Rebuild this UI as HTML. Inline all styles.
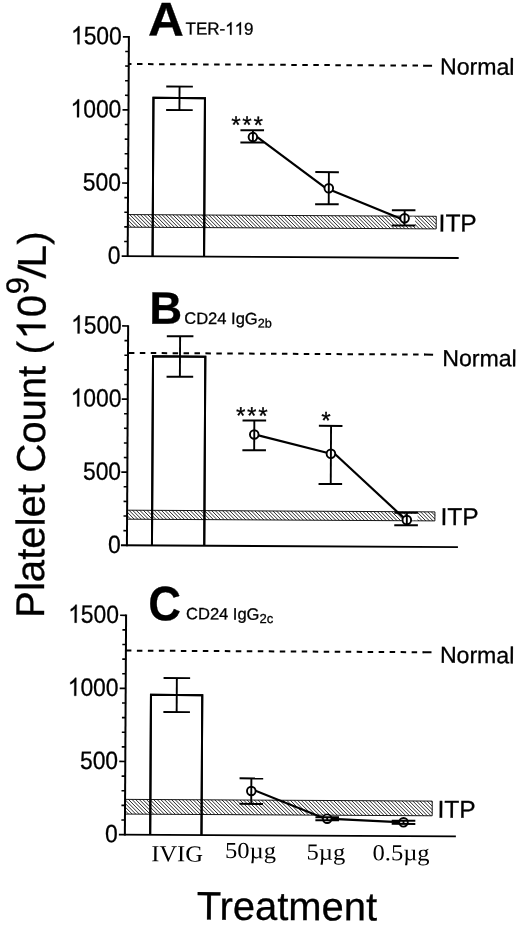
<!DOCTYPE html>
<html><head><meta charset="utf-8"><title>Figure</title>
<style>
html,body{margin:0;padding:0;background:#fff;}
body{width:520px;height:928px;overflow:hidden;}
svg{display:block;will-change:transform;filter:grayscale(1);}
text{font-family:"Liberation Sans",sans-serif;fill:#000;stroke:#000;stroke-width:0.3px;}
</style></head><body>
<svg width="520" height="928" viewBox="0 0 520 928">
<rect width="520" height="928" fill="#fff"/>
<g transform="translate(128.9,36.85) rotate(0.32)">
<rect x="0" y="177.73" width="308.34" height="12.6" fill="#fff"/>
<path d="M0,190.33L0,190.33M0,186.73L3.6,190.33M0,183.13L7.2,190.33M0,179.53L10.8,190.33M1.8,177.73L14.4,190.33M5.4,177.73L18,190.33M9,177.73L21.6,190.33M12.6,177.73L25.2,190.33M16.2,177.73L28.8,190.33M19.8,177.73L32.4,190.33M23.4,177.73L36,190.33M27,177.73L39.6,190.33M30.6,177.73L43.2,190.33M34.2,177.73L46.8,190.33M37.8,177.73L50.4,190.33M41.4,177.73L54,190.33M45,177.73L57.6,190.33M48.6,177.73L61.2,190.33M52.2,177.73L64.8,190.33M55.8,177.73L68.4,190.33M59.4,177.73L72,190.33M63,177.73L75.6,190.33M66.6,177.73L79.2,190.33M70.2,177.73L82.8,190.33M73.8,177.73L86.4,190.33M77.4,177.73L90,190.33M81,177.73L93.6,190.33M84.6,177.73L97.2,190.33M88.2,177.73L100.8,190.33M91.8,177.73L104.4,190.33M95.4,177.73L108,190.33M99,177.73L111.6,190.33M102.6,177.73L115.2,190.33M106.2,177.73L118.8,190.33M109.8,177.73L122.4,190.33M113.4,177.73L126,190.33M117,177.73L129.6,190.33M120.6,177.73L133.2,190.33M124.2,177.73L136.8,190.33M127.8,177.73L140.4,190.33M131.4,177.73L144,190.33M135,177.73L147.6,190.33M138.6,177.73L151.2,190.33M142.2,177.73L154.8,190.33M145.8,177.73L158.4,190.33M149.4,177.73L162,190.33M153,177.73L165.6,190.33M156.6,177.73L169.2,190.33M160.2,177.73L172.8,190.33M163.8,177.73L176.4,190.33M167.4,177.73L180,190.33M171,177.73L183.6,190.33M174.6,177.73L187.2,190.33M178.2,177.73L190.8,190.33M181.8,177.73L194.4,190.33M185.4,177.73L198,190.33M189,177.73L201.6,190.33M192.6,177.73L205.2,190.33M196.2,177.73L208.8,190.33M199.8,177.73L212.4,190.33M203.4,177.73L216,190.33M207,177.73L219.6,190.33M210.6,177.73L223.2,190.33M214.2,177.73L226.8,190.33M217.8,177.73L230.4,190.33M221.4,177.73L234,190.33M225,177.73L237.6,190.33M228.6,177.73L241.2,190.33M232.2,177.73L244.8,190.33M235.8,177.73L248.4,190.33M239.4,177.73L252,190.33M243,177.73L255.6,190.33M246.6,177.73L259.2,190.33M250.2,177.73L262.8,190.33M253.8,177.73L266.4,190.33M257.4,177.73L270,190.33M261,177.73L273.6,190.33M264.6,177.73L277.2,190.33M268.2,177.73L280.8,190.33M271.8,177.73L284.4,190.33M275.4,177.73L288,190.33M279,177.73L291.6,190.33M282.6,177.73L295.2,190.33M286.2,177.73L298.8,190.33M289.8,177.73L302.4,190.33M293.4,177.73L306,190.33M297,177.73L308.34,189.07M300.6,177.73L308.34,185.47M304.2,177.73L308.34,181.87M307.8,177.73L308.34,178.27" stroke="#111" stroke-width="0.9" fill="none"/>
<rect x="0" y="177.73" width="308.34" height="12.6" fill="none" stroke="#000" stroke-width="0.9"/>
<line x1="0" y1="-0.85" x2="0" y2="220.15" stroke="#000" stroke-width="2.0" />
<line x1="-6" y1="219.3" x2="331" y2="219.3" stroke="#000" stroke-width="1.8" />
<line x1="-3.6" y1="204.68" x2="0" y2="204.68" stroke="#000" stroke-width="1.6" />
<line x1="-3.6" y1="190.06" x2="0" y2="190.06" stroke="#000" stroke-width="1.6" />
<line x1="-3.6" y1="175.44" x2="0" y2="175.44" stroke="#000" stroke-width="1.6" />
<line x1="-3.6" y1="160.82" x2="0" y2="160.82" stroke="#000" stroke-width="1.6" />
<line x1="-6" y1="146.2" x2="0" y2="146.2" stroke="#000" stroke-width="1.7" />
<line x1="-3.6" y1="131.58" x2="0" y2="131.58" stroke="#000" stroke-width="1.6" />
<line x1="-3.6" y1="116.96" x2="0" y2="116.96" stroke="#000" stroke-width="1.6" />
<line x1="-3.6" y1="102.34" x2="0" y2="102.34" stroke="#000" stroke-width="1.6" />
<line x1="-3.6" y1="87.72" x2="0" y2="87.72" stroke="#000" stroke-width="1.6" />
<line x1="-6" y1="73.1" x2="0" y2="73.1" stroke="#000" stroke-width="1.7" />
<line x1="-3.6" y1="58.48" x2="0" y2="58.48" stroke="#000" stroke-width="1.6" />
<line x1="-3.6" y1="43.86" x2="0" y2="43.86" stroke="#000" stroke-width="1.6" />
<line x1="-3.6" y1="29.24" x2="0" y2="29.24" stroke="#000" stroke-width="1.6" />
<line x1="-3.6" y1="14.62" x2="0" y2="14.62" stroke="#000" stroke-width="1.6" />
<line x1="-6" y1="0" x2="0" y2="0" stroke="#000" stroke-width="1.7" />
<text transform="translate(-7.2,227) scale(0.905,1)" text-anchor="end" font-size="25.2">0</text>
<text transform="translate(-7.2,153.9) scale(0.905,1)" text-anchor="end" font-size="25.2">500</text>
<g transform="translate(-7.2,80.8) scale(0.905,1)"><text text-anchor="end" font-size="25.2">000</text><path d="M-46.65,0.00 L-48.86,0.00 L-48.86,-14.11 C-49.39,-13.61 -50.10,-13.10 -50.98,-12.57 C-51.84,-12.07 -52.62,-11.69 -53.30,-11.44 L-53.30,-13.58 C-52.06,-14.16 -50.98,-14.87 -50.07,-15.70 C-49.14,-16.51 -48.48,-17.31 -48.11,-18.09 L-46.65,-18.09 Z" fill="#000" stroke="#000" stroke-width="0.3"/></g>
<g transform="translate(-7.2,7.7) scale(0.905,1)"><text text-anchor="end" font-size="25.2">500</text><path d="M-46.65,0.00 L-48.86,0.00 L-48.86,-14.11 C-49.39,-13.61 -50.10,-13.10 -50.98,-12.57 C-51.84,-12.07 -52.62,-11.69 -53.30,-11.44 L-53.30,-13.58 C-52.06,-14.16 -50.98,-14.87 -50.07,-15.70 C-49.14,-16.51 -48.48,-17.31 -48.11,-18.09 L-46.65,-18.09 Z" fill="#000" stroke="#000" stroke-width="0.3"/></g>
<line x1="0" y1="27.14" x2="295.3" y2="27.14" stroke="#000" stroke-width="2.0" stroke-dasharray="5.5 5.52" stroke-dashoffset="-8.25"/>
<line x1="294.5" y1="27.14" x2="303.3" y2="27.14" stroke="#000" stroke-width="2.0" />
<text x="311.31" y="35.74" font-size="23.1">Normal</text>
<text x="310.79" y="192.82" font-size="24.5">ITP</text>
<path d="M24.9,219.3 V60.86 H76.4 V219.3" fill="none" stroke="#000" stroke-width="2"/>
<path d="M24.9,219.3 V60.86 H76.4 V219.3" fill="none" stroke="#000" stroke-width="2"/>
<line x1="50.94" y1="49.37" x2="50.94" y2="72.87" stroke="#000" stroke-width="1.9" />
<line x1="37.64" y1="49.37" x2="64.24" y2="49.37" stroke="#000" stroke-width="1.9" />
<line x1="37.64" y1="72.87" x2="64.24" y2="72.87" stroke="#000" stroke-width="1.9" />
<rect x="276.72" y="178.33" width="10.5" height="8.77" fill="#fff"/>
<line x1="124.54" y1="96.26" x2="200.76" y2="152.43" stroke="#000" stroke-width="2.2" />
<line x1="200.75" y1="151.23" x2="276.73" y2="181.91" stroke="#000" stroke-width="2.2" />
<circle cx="124.56" cy="99.56" r="4.3" fill="#fff" stroke="none"/>
<line x1="112.06" y1="92.66" x2="135.66" y2="92.66" stroke="#000" stroke-width="2.0" />
<line x1="112.06" y1="104.96" x2="135.66" y2="104.96" stroke="#000" stroke-width="2.0" />
<line x1="124.56" y1="92.66" x2="124.56" y2="104.96" stroke="#000" stroke-width="1.9" />
<circle cx="124.56" cy="99.56" r="4.3" fill="none" stroke="#000" stroke-width="1.9"/>
<circle cx="200.75" cy="150.33" r="4.3" fill="#fff" stroke="none"/>
<line x1="187.15" y1="134.23" x2="210.75" y2="134.23" stroke="#000" stroke-width="2.0" />
<line x1="187.15" y1="166.33" x2="210.75" y2="166.33" stroke="#000" stroke-width="2.0" />
<line x1="200.75" y1="134.23" x2="200.75" y2="166.33" stroke="#000" stroke-width="1.9" />
<circle cx="200.75" cy="150.33" r="4.3" fill="none" stroke="#000" stroke-width="1.9"/>
<circle cx="276.72" cy="179.91" r="4.3" fill="#fff" stroke="none"/>
<line x1="263.92" y1="171.91" x2="287.52" y2="171.91" stroke="#000" stroke-width="2.0" />
<line x1="263.92" y1="187.11" x2="287.52" y2="187.11" stroke="#000" stroke-width="2.0" />
<line x1="276.72" y1="171.91" x2="276.72" y2="187.11" stroke="#000" stroke-width="1.9" />
<circle cx="276.72" cy="179.91" r="4.3" fill="none" stroke="#000" stroke-width="1.9"/>
<text x="102.84" y="95.58" font-size="24" letter-spacing="1.8" stroke="#000" stroke-width="0.7">***</text>
<text transform="translate(19.19,-1.56) scale(1.045,1)" font-size="47.5" font-weight="bold" stroke="none">A</text>
<g transform="translate(56.69,-2.77) scale(0.975,1)"><text font-size="17.4">TER-</text><path d="M47.08,0.00 L45.55,0.00 L45.55,-9.74 C45.19,-9.40 44.70,-9.05 44.09,-8.68 C43.50,-8.33 42.96,-8.07 42.49,-7.90 L42.49,-9.38 C43.34,-9.78 44.09,-10.27 44.72,-10.84 C45.36,-11.40 45.81,-11.95 46.08,-12.49 L47.08,-12.49 Z" fill="#000" stroke="#000" stroke-width="0.3"/><path d="M56.76,0.00 L55.23,0.00 L55.23,-9.74 C54.86,-9.40 54.37,-9.05 53.77,-8.68 C53.17,-8.33 52.63,-8.07 52.17,-7.90 L52.17,-9.38 C53.02,-9.78 53.77,-10.27 54.39,-10.84 C55.04,-11.40 55.49,-11.95 55.75,-12.49 L56.76,-12.49 Z" fill="#000" stroke="#000" stroke-width="0.3"/><text x="59.94" font-size="17.4">9</text></g>
</g>
<g transform="translate(128.15,326) rotate(0.32)">
<rect x="0" y="184.18" width="307.81" height="9" fill="#fff"/>
<path d="M0,193.18L0,193.18M0,189.58L3.6,193.18M0,185.98L7.2,193.18M1.8,184.18L10.8,193.18M5.4,184.18L14.4,193.18M9,184.18L18,193.18M12.6,184.18L21.6,193.18M16.2,184.18L25.2,193.18M19.8,184.18L28.8,193.18M23.4,184.18L32.4,193.18M27,184.18L36,193.18M30.6,184.18L39.6,193.18M34.2,184.18L43.2,193.18M37.8,184.18L46.8,193.18M41.4,184.18L50.4,193.18M45,184.18L54,193.18M48.6,184.18L57.6,193.18M52.2,184.18L61.2,193.18M55.8,184.18L64.8,193.18M59.4,184.18L68.4,193.18M63,184.18L72,193.18M66.6,184.18L75.6,193.18M70.2,184.18L79.2,193.18M73.8,184.18L82.8,193.18M77.4,184.18L86.4,193.18M81,184.18L90,193.18M84.6,184.18L93.6,193.18M88.2,184.18L97.2,193.18M91.8,184.18L100.8,193.18M95.4,184.18L104.4,193.18M99,184.18L108,193.18M102.6,184.18L111.6,193.18M106.2,184.18L115.2,193.18M109.8,184.18L118.8,193.18M113.4,184.18L122.4,193.18M117,184.18L126,193.18M120.6,184.18L129.6,193.18M124.2,184.18L133.2,193.18M127.8,184.18L136.8,193.18M131.4,184.18L140.4,193.18M135,184.18L144,193.18M138.6,184.18L147.6,193.18M142.2,184.18L151.2,193.18M145.8,184.18L154.8,193.18M149.4,184.18L158.4,193.18M153,184.18L162,193.18M156.6,184.18L165.6,193.18M160.2,184.18L169.2,193.18M163.8,184.18L172.8,193.18M167.4,184.18L176.4,193.18M171,184.18L180,193.18M174.6,184.18L183.6,193.18M178.2,184.18L187.2,193.18M181.8,184.18L190.8,193.18M185.4,184.18L194.4,193.18M189,184.18L198,193.18M192.6,184.18L201.6,193.18M196.2,184.18L205.2,193.18M199.8,184.18L208.8,193.18M203.4,184.18L212.4,193.18M207,184.18L216,193.18M210.6,184.18L219.6,193.18M214.2,184.18L223.2,193.18M217.8,184.18L226.8,193.18M221.4,184.18L230.4,193.18M225,184.18L234,193.18M228.6,184.18L237.6,193.18M232.2,184.18L241.2,193.18M235.8,184.18L244.8,193.18M239.4,184.18L248.4,193.18M243,184.18L252,193.18M246.6,184.18L255.6,193.18M250.2,184.18L259.2,193.18M253.8,184.18L262.8,193.18M257.4,184.18L266.4,193.18M261,184.18L270,193.18M264.6,184.18L273.6,193.18M268.2,184.18L277.2,193.18M271.8,184.18L280.8,193.18M275.4,184.18L284.4,193.18M279,184.18L288,193.18M282.6,184.18L291.6,193.18M286.2,184.18L295.2,193.18M289.8,184.18L298.8,193.18M293.4,184.18L302.4,193.18M297,184.18L306,193.18M300.6,184.18L307.81,191.39M304.2,184.18L307.81,187.79M307.8,184.18L307.81,184.19" stroke="#111" stroke-width="0.9" fill="none"/>
<rect x="0" y="184.18" width="307.81" height="9" fill="none" stroke="#000" stroke-width="0.9"/>
<line x1="0" y1="-0.85" x2="0" y2="220.15" stroke="#000" stroke-width="2.0" />
<line x1="-6" y1="219.3" x2="331" y2="219.3" stroke="#000" stroke-width="1.8" />
<line x1="-3.6" y1="204.68" x2="0" y2="204.68" stroke="#000" stroke-width="1.6" />
<line x1="-3.6" y1="190.06" x2="0" y2="190.06" stroke="#000" stroke-width="1.6" />
<line x1="-3.6" y1="175.44" x2="0" y2="175.44" stroke="#000" stroke-width="1.6" />
<line x1="-3.6" y1="160.82" x2="0" y2="160.82" stroke="#000" stroke-width="1.6" />
<line x1="-6" y1="146.2" x2="0" y2="146.2" stroke="#000" stroke-width="1.7" />
<line x1="-3.6" y1="131.58" x2="0" y2="131.58" stroke="#000" stroke-width="1.6" />
<line x1="-3.6" y1="116.96" x2="0" y2="116.96" stroke="#000" stroke-width="1.6" />
<line x1="-3.6" y1="102.34" x2="0" y2="102.34" stroke="#000" stroke-width="1.6" />
<line x1="-3.6" y1="87.72" x2="0" y2="87.72" stroke="#000" stroke-width="1.6" />
<line x1="-6" y1="73.1" x2="0" y2="73.1" stroke="#000" stroke-width="1.7" />
<line x1="-3.6" y1="58.48" x2="0" y2="58.48" stroke="#000" stroke-width="1.6" />
<line x1="-3.6" y1="43.86" x2="0" y2="43.86" stroke="#000" stroke-width="1.6" />
<line x1="-3.6" y1="29.24" x2="0" y2="29.24" stroke="#000" stroke-width="1.6" />
<line x1="-3.6" y1="14.62" x2="0" y2="14.62" stroke="#000" stroke-width="1.6" />
<line x1="-6" y1="0" x2="0" y2="0" stroke="#000" stroke-width="1.7" />
<text transform="translate(-6.3,227) scale(0.905,1)" text-anchor="end" font-size="25.2">0</text>
<text transform="translate(-6.3,153.9) scale(0.905,1)" text-anchor="end" font-size="25.2">500</text>
<g transform="translate(-6.3,80.8) scale(0.905,1)"><text text-anchor="end" font-size="25.2">000</text><path d="M-46.65,0.00 L-48.86,0.00 L-48.86,-14.11 C-49.39,-13.61 -50.10,-13.10 -50.98,-12.57 C-51.84,-12.07 -52.62,-11.69 -53.30,-11.44 L-53.30,-13.58 C-52.06,-14.16 -50.98,-14.87 -50.07,-15.70 C-49.14,-16.51 -48.48,-17.31 -48.11,-18.09 L-46.65,-18.09 Z" fill="#000" stroke="#000" stroke-width="0.3"/></g>
<g transform="translate(-6.3,7.7) scale(0.905,1)"><text text-anchor="end" font-size="25.2">500</text><path d="M-46.65,0.00 L-48.86,0.00 L-48.86,-14.11 C-49.39,-13.61 -50.10,-13.10 -50.98,-12.57 C-51.84,-12.07 -52.62,-11.69 -53.30,-11.44 L-53.30,-13.58 C-52.06,-14.16 -50.98,-14.87 -50.07,-15.70 C-49.14,-16.51 -48.48,-17.31 -48.11,-18.09 L-46.65,-18.09 Z" fill="#000" stroke="#000" stroke-width="0.3"/></g>
<line x1="0" y1="26.93" x2="297.1" y2="26.93" stroke="#000" stroke-width="2.0" stroke-dasharray="5.5 5.43" stroke-dashoffset="-0.9"/>
<line x1="296.3" y1="26.93" x2="305.1" y2="26.93" stroke="#000" stroke-width="2.0" />
<text x="314.37" y="38.23" font-size="23.1">Normal</text>
<text x="313.36" y="197.25" font-size="24.5">ITP</text>
<path d="M25.04,219.3 V30.21 H77.34 V219.3" fill="none" stroke="#000" stroke-width="2"/>
<path d="M25.04,219.3 V30.21 H77.34 V219.3" fill="none" stroke="#000" stroke-width="2"/>
<line x1="52.02" y1="9.96" x2="52.02" y2="50.46" stroke="#000" stroke-width="1.9" />
<line x1="38.72" y1="9.96" x2="65.32" y2="9.96" stroke="#000" stroke-width="1.9" />
<line x1="38.72" y1="50.46" x2="65.32" y2="50.46" stroke="#000" stroke-width="1.9" />
<rect x="279.74" y="186.24" width="10.8" height="6.34" fill="#fff"/>
<line x1="126.86" y1="107.69" x2="203.47" y2="126.66" stroke="#000" stroke-width="2.2" />
<line x1="203.45" y1="123.06" x2="279.74" y2="193.14" stroke="#000" stroke-width="2.2" />
<circle cx="126.71" cy="107.79" r="4.3" fill="#fff" stroke="none"/>
<line x1="114.91" y1="93.79" x2="138.51" y2="93.79" stroke="#000" stroke-width="2.0" />
<line x1="114.91" y1="123.54" x2="138.51" y2="123.54" stroke="#000" stroke-width="2.0" />
<line x1="126.71" y1="93.79" x2="126.71" y2="123.54" stroke="#000" stroke-width="1.9" />
<circle cx="126.71" cy="107.79" r="4.3" fill="none" stroke="#000" stroke-width="1.9"/>
<circle cx="203.47" cy="126.66" r="4.3" fill="#fff" stroke="none"/>
<line x1="191.27" y1="98.76" x2="214.87" y2="98.76" stroke="#000" stroke-width="2.0" />
<line x1="191.27" y1="156.86" x2="214.87" y2="156.86" stroke="#000" stroke-width="2.0" />
<line x1="203.47" y1="98.76" x2="203.47" y2="156.86" stroke="#000" stroke-width="1.9" />
<circle cx="203.47" cy="126.66" r="4.3" fill="none" stroke="#000" stroke-width="1.9"/>
<circle cx="279.74" cy="192.44" r="4.3" fill="#fff" stroke="none"/>
<line x1="267.24" y1="185.24" x2="290.84" y2="185.24" stroke="#000" stroke-width="2.0" />
<line x1="267.24" y1="197.64" x2="290.84" y2="197.64" stroke="#000" stroke-width="2.0" />
<line x1="279.74" y1="185.24" x2="279.74" y2="197.64" stroke="#000" stroke-width="1.9" />
<circle cx="279.74" cy="192.44" r="4.3" fill="none" stroke="#000" stroke-width="1.9"/>
<text x="108.3" y="97.2" font-size="24" letter-spacing="1.8" stroke="#000" stroke-width="0.7">***</text>
<text x="193.72" y="101.52" font-size="24" letter-spacing="1.8" stroke="#000" stroke-width="0.7">*</text>
<text transform="translate(21.04,-2.42) scale(1.0,1)" font-size="45.5" font-weight="bold" stroke="none">B</text>
<text x="56.14" y="-2.51" font-size="16.5">CD24 IgG<tspan font-size="12.6" dy="3.3">2b</tspan></text>
</g>
<g transform="translate(126.1,615.3) rotate(0.32)">
<rect x="0" y="184.07" width="307.18" height="14.7" fill="#fff"/>
<path d="M0,198.77L0,198.77M0,195.17L3.6,198.77M0,191.57L7.2,198.77M0,187.97L10.8,198.77M0,184.37L14.4,198.77M3.3,184.07L18,198.77M6.9,184.07L21.6,198.77M10.5,184.07L25.2,198.77M14.1,184.07L28.8,198.77M17.7,184.07L32.4,198.77M21.3,184.07L36,198.77M24.9,184.07L39.6,198.77M28.5,184.07L43.2,198.77M32.1,184.07L46.8,198.77M35.7,184.07L50.4,198.77M39.3,184.07L54,198.77M42.9,184.07L57.6,198.77M46.5,184.07L61.2,198.77M50.1,184.07L64.8,198.77M53.7,184.07L68.4,198.77M57.3,184.07L72,198.77M60.9,184.07L75.6,198.77M64.5,184.07L79.2,198.77M68.1,184.07L82.8,198.77M71.7,184.07L86.4,198.77M75.3,184.07L90,198.77M78.9,184.07L93.6,198.77M82.5,184.07L97.2,198.77M86.1,184.07L100.8,198.77M89.7,184.07L104.4,198.77M93.3,184.07L108,198.77M96.9,184.07L111.6,198.77M100.5,184.07L115.2,198.77M104.1,184.07L118.8,198.77M107.7,184.07L122.4,198.77M111.3,184.07L126,198.77M114.9,184.07L129.6,198.77M118.5,184.07L133.2,198.77M122.1,184.07L136.8,198.77M125.7,184.07L140.4,198.77M129.3,184.07L144,198.77M132.9,184.07L147.6,198.77M136.5,184.07L151.2,198.77M140.1,184.07L154.8,198.77M143.7,184.07L158.4,198.77M147.3,184.07L162,198.77M150.9,184.07L165.6,198.77M154.5,184.07L169.2,198.77M158.1,184.07L172.8,198.77M161.7,184.07L176.4,198.77M165.3,184.07L180,198.77M168.9,184.07L183.6,198.77M172.5,184.07L187.2,198.77M176.1,184.07L190.8,198.77M179.7,184.07L194.4,198.77M183.3,184.07L198,198.77M186.9,184.07L201.6,198.77M190.5,184.07L205.2,198.77M194.1,184.07L208.8,198.77M197.7,184.07L212.4,198.77M201.3,184.07L216,198.77M204.9,184.07L219.6,198.77M208.5,184.07L223.2,198.77M212.1,184.07L226.8,198.77M215.7,184.07L230.4,198.77M219.3,184.07L234,198.77M222.9,184.07L237.6,198.77M226.5,184.07L241.2,198.77M230.1,184.07L244.8,198.77M233.7,184.07L248.4,198.77M237.3,184.07L252,198.77M240.9,184.07L255.6,198.77M244.5,184.07L259.2,198.77M248.1,184.07L262.8,198.77M251.7,184.07L266.4,198.77M255.3,184.07L270,198.77M258.9,184.07L273.6,198.77M262.5,184.07L277.2,198.77M266.1,184.07L280.8,198.77M269.7,184.07L284.4,198.77M273.3,184.07L288,198.77M276.9,184.07L291.6,198.77M280.5,184.07L295.2,198.77M284.1,184.07L298.8,198.77M287.7,184.07L302.4,198.77M291.3,184.07L306,198.77M294.9,184.07L307.18,196.35M298.5,184.07L307.18,192.75M302.1,184.07L307.18,189.15M305.7,184.07L307.18,185.55" stroke="#111" stroke-width="0.9" fill="none"/>
<rect x="0" y="184.07" width="307.18" height="14.7" fill="none" stroke="#000" stroke-width="0.9"/>
<line x1="0" y1="-0.85" x2="0" y2="220.15" stroke="#000" stroke-width="2.0" />
<line x1="-6" y1="219.3" x2="331" y2="219.3" stroke="#000" stroke-width="1.8" />
<line x1="-3.6" y1="204.68" x2="0" y2="204.68" stroke="#000" stroke-width="1.6" />
<line x1="-3.6" y1="190.06" x2="0" y2="190.06" stroke="#000" stroke-width="1.6" />
<line x1="-3.6" y1="175.44" x2="0" y2="175.44" stroke="#000" stroke-width="1.6" />
<line x1="-3.6" y1="160.82" x2="0" y2="160.82" stroke="#000" stroke-width="1.6" />
<line x1="-6" y1="146.2" x2="0" y2="146.2" stroke="#000" stroke-width="1.7" />
<line x1="-3.6" y1="131.58" x2="0" y2="131.58" stroke="#000" stroke-width="1.6" />
<line x1="-3.6" y1="116.96" x2="0" y2="116.96" stroke="#000" stroke-width="1.6" />
<line x1="-3.6" y1="102.34" x2="0" y2="102.34" stroke="#000" stroke-width="1.6" />
<line x1="-3.6" y1="87.72" x2="0" y2="87.72" stroke="#000" stroke-width="1.6" />
<line x1="-6" y1="73.1" x2="0" y2="73.1" stroke="#000" stroke-width="1.7" />
<line x1="-3.6" y1="58.48" x2="0" y2="58.48" stroke="#000" stroke-width="1.6" />
<line x1="-3.6" y1="43.86" x2="0" y2="43.86" stroke="#000" stroke-width="1.6" />
<line x1="-3.6" y1="29.24" x2="0" y2="29.24" stroke="#000" stroke-width="1.6" />
<line x1="-3.6" y1="14.62" x2="0" y2="14.62" stroke="#000" stroke-width="1.6" />
<line x1="-6" y1="0" x2="0" y2="0" stroke="#000" stroke-width="1.7" />
<text transform="translate(-7.2,227) scale(0.905,1)" text-anchor="end" font-size="25.2">0</text>
<text transform="translate(-7.2,153.9) scale(0.905,1)" text-anchor="end" font-size="25.2">500</text>
<g transform="translate(-7.2,80.8) scale(0.905,1)"><text text-anchor="end" font-size="25.2">000</text><path d="M-46.65,0.00 L-48.86,0.00 L-48.86,-14.11 C-49.39,-13.61 -50.10,-13.10 -50.98,-12.57 C-51.84,-12.07 -52.62,-11.69 -53.30,-11.44 L-53.30,-13.58 C-52.06,-14.16 -50.98,-14.87 -50.07,-15.70 C-49.14,-16.51 -48.48,-17.31 -48.11,-18.09 L-46.65,-18.09 Z" fill="#000" stroke="#000" stroke-width="0.3"/></g>
<g transform="translate(-7.2,7.7) scale(0.905,1)"><text text-anchor="end" font-size="25.2">500</text><path d="M-46.65,0.00 L-48.86,0.00 L-48.86,-14.11 C-49.39,-13.61 -50.10,-13.10 -50.98,-12.57 C-51.84,-12.07 -52.62,-11.69 -53.30,-11.44 L-53.30,-13.58 C-52.06,-14.16 -50.98,-14.87 -50.07,-15.70 C-49.14,-16.51 -48.48,-17.31 -48.11,-18.09 L-46.65,-18.09 Z" fill="#000" stroke="#000" stroke-width="0.3"/></g>
<line x1="0" y1="35.27" x2="297.6" y2="35.27" stroke="#000" stroke-width="2.0" stroke-dasharray="5.5 5.49" stroke-dashoffset="-0"/>
<line x1="296.8" y1="35.27" x2="305.6" y2="35.27" stroke="#000" stroke-width="2.0" />
<text x="314.06" y="45.77" font-size="23.1">Normal</text>
<text x="312.53" y="200.66" font-size="24.5">ITP</text>
<path d="M25.31,219.3 V79.41 H76.61 V219.3" fill="none" stroke="#000" stroke-width="2"/>
<path d="M25.31,219.3 V79.41 H76.61 V219.3" fill="none" stroke="#000" stroke-width="2"/>
<line x1="51.1" y1="62.42" x2="51.1" y2="96.42" stroke="#000" stroke-width="1.9" />
<line x1="37.8" y1="62.42" x2="64.4" y2="62.42" stroke="#000" stroke-width="1.9" />
<line x1="37.8" y1="96.42" x2="64.4" y2="96.42" stroke="#000" stroke-width="1.9" />
<line x1="126.17" y1="173.1" x2="202.24" y2="203.07" stroke="#000" stroke-width="2.2" />
<line x1="202.24" y1="202.27" x2="278.56" y2="205.45" stroke="#000" stroke-width="2.2" />
<circle cx="126.18" cy="175" r="4.3" fill="#fff" stroke="none"/>
<line x1="114.38" y1="162.4" x2="137.98" y2="162.4" stroke="#000" stroke-width="2.0" />
<line x1="114.38" y1="187.9" x2="137.98" y2="187.9" stroke="#000" stroke-width="2.0" />
<line x1="126.18" y1="162.4" x2="126.18" y2="187.9" stroke="#000" stroke-width="1.9" />
<circle cx="126.18" cy="175" r="4.3" fill="none" stroke="#000" stroke-width="1.9"/>
<circle cx="202.24" cy="202.27" r="4.3" fill="#fff" stroke="none"/>
<line x1="190.44" y1="200.77" x2="214.04" y2="200.77" stroke="#000" stroke-width="2.0" />
<line x1="190.44" y1="203.87" x2="214.04" y2="203.87" stroke="#000" stroke-width="2.0" />
<line x1="202.24" y1="200.77" x2="202.24" y2="203.87" stroke="#000" stroke-width="1.9" />
<circle cx="202.24" cy="202.27" r="4.3" fill="none" stroke="#000" stroke-width="1.9"/>
<circle cx="278.56" cy="205.45" r="4.3" fill="#fff" stroke="none"/>
<line x1="266.76" y1="203.85" x2="290.36" y2="203.85" stroke="#000" stroke-width="2.0" />
<line x1="266.76" y1="207.05" x2="290.36" y2="207.05" stroke="#000" stroke-width="2.0" />
<line x1="278.56" y1="203.85" x2="278.56" y2="207.05" stroke="#000" stroke-width="1.9" />
<circle cx="278.56" cy="205.45" r="4.3" fill="none" stroke="#000" stroke-width="1.9"/>
<text transform="translate(22.13,4.78) scale(0.93,1)" font-size="48.5" font-weight="bold" stroke="none">C</text>
<text x="60.02" y="3.67" font-size="16.5">CD24 IgG<tspan font-size="13" dy="3.3">2c</tspan></text>
<text transform="translate(26.48,245.76) scale(1.066,1)" style="font-family:&quot;Liberation Serif&quot;,serif;stroke:none" font-size="23">IVIG</text>
<text transform="translate(100.26,242.15) scale(1.066,1)" style="font-family:&quot;Liberation Serif&quot;,serif;stroke:none" font-size="23">50µg</text>
<text transform="translate(181.77,243.29) scale(1.066,1)" style="font-family:&quot;Liberation Serif&quot;,serif;stroke:none" font-size="23">5µg</text>
<text transform="translate(247.77,243.52) scale(1.066,1)" style="font-family:&quot;Liberation Serif&quot;,serif;stroke:none" font-size="23">0.5µg</text>
</g>

<g transform="rotate(0.32 30 424)">
<g transform="translate(45.0,617.8) rotate(-90)">
<text font-size="40.15">Platelet Count (</text>
<path d="M293.19,0.00 L289.66,0.00 L289.66,-22.48 C288.81,-21.68 287.69,-20.88 286.28,-20.03 C284.92,-19.23 283.67,-18.63 282.59,-18.23 L282.59,-21.64 C284.56,-22.56 286.28,-23.69 287.73,-25.01 C289.21,-26.30 290.26,-27.58 290.86,-28.83 L293.19,-28.83 Z" fill="#000" stroke="#000" stroke-width="0.3"/>
<text x="300.64" font-size="40.15">0</text>
<text x="323.2" y="-17.4" font-size="31.5">9</text>
<path d="M339.3,0 L342.9,0 L353.2,-28.2 L349.6,-28.2 Z" fill="#000" stroke="#000" stroke-width="0.3"/>
<text x="350.3" font-size="40.15" letter-spacing="0.6">L)</text>
</g>
</g>
<text transform="translate(196.7,919.5) rotate(0.32)" font-size="39.9">Treatment</text>
</svg>
</body></html>
